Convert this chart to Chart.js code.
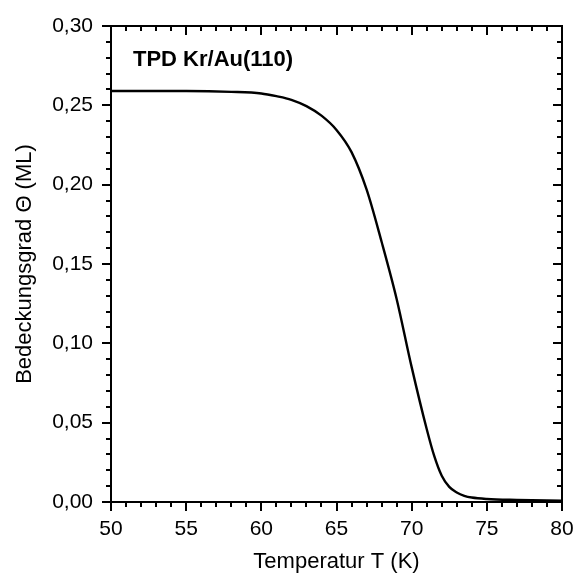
<!DOCTYPE html>
<html>
<head>
<meta charset="utf-8">
<script src="https://cdn.jsdelivr.net/npm/chart.js@4.4.1/dist/chart.umd.min.js"></script>
<style>
  html, body { margin: 0; padding: 0; background: #fff; }
  #wrap { width: 583px; height: 579px; }
</style>
</head>
<body>
<div id="wrap"><canvas id="myChart" width="583" height="579"></canvas></div>
<script>
// temperature (K) and coverage (ML)
const temps = [50, 55, 58, 60, 61, 62, 63, 64, 65, 66, 67, 68, 69, 70, 71, 71.5, 72, 72.5, 73, 73.5, 74, 75, 77, 80];
const coverage = [0.259, 0.259, 0.2585, 0.2575, 0.2558, 0.2535, 0.2495, 0.2435, 0.2345, 0.2205, 0.197, 0.164,
  0.128, 0.085, 0.046, 0.029, 0.0165, 0.0095, 0.006, 0.0039, 0.0028, 0.0019, 0.0013, 0.0008];
const xTicks = [50, 55, 60, 65, 70, 75, 80];
const yTicks = [0, 0.05, 0.10, 0.15, 0.20, 0.25, 0.30];
const chartLabel = 'TPD Kr/Au(110)';
const xTitle = 'Temperatur T (K)';
const yTitle = 'Bedeckungsgrad \u0398 (ML)';

const font = "'Liberation Sans', Arial, sans-serif";

// frame with ticks on all four sides (outside left/bottom, inside top/right)
const framePlugin = {
  id: 'frame',
  afterDraw(chart) {
    const ctx = chart.ctx;
    const area = chart.chartArea;
    const xs = chart.scales.x;
    const ys = chart.scales.y;
    ctx.save();
    ctx.strokeStyle = '#000';
    ctx.lineWidth = 2;
    ctx.lineCap = 'square';
    ctx.strokeRect(area.left, area.top, area.right - area.left, area.bottom - area.top);

    ctx.lineCap = 'butt';
    ctx.beginPath();
    for (let t = 50; t <= 80; t++) {
      const px = Math.round(xs.getPixelForValue(t));
      const len = t % 5 === 0 ? 9 : 5;
      ctx.moveTo(px, area.bottom);
      ctx.lineTo(px, area.bottom + len);
      ctx.moveTo(px, area.top);
      ctx.lineTo(px, area.top + len);
    }
    for (let i = 0; i <= 30; i++) {
      const py = Math.round(ys.getPixelForValue(i / 100));
      const len = i % 5 === 0 ? 9 : 5;
      ctx.moveTo(area.left, py);
      ctx.lineTo(area.left - len, py);
      ctx.moveTo(area.right, py);
      ctx.lineTo(area.right - len, py);
    }
    ctx.stroke();

    ctx.fillStyle = '#000';
    ctx.font = 'bold 22px ' + font;
    ctx.textBaseline = 'alphabetic';
    ctx.fillText(chartLabel, 133, 66);
    ctx.restore();
  }
};

const chartTarget = document.querySelector('#myChart');
const points = temps.map((t, i) => ({ x: t, y: coverage[i] }));

const myChart = new Chart(chartTarget, {
  type: 'line',
  data: {
    datasets: [{
      data: points,
      borderColor: '#000',
      borderWidth: 2.4,
      pointRadius: 0,
      fill: false,
      cubicInterpolationMode: 'monotone'
    }]
  },
  options: {
    responsive: false,
    animation: false,
    layout: { padding: { top: 26, right: 21, left: 0, bottom: 0 } },
    plugins: {
      legend: { display: false },
      tooltip: { enabled: false }
    },
    scales: {
      x: {
        type: 'linear',
        min: 50,
        max: 80,
        afterFit: (scale) => {
          scale.height = 77;
          scale.paddingLeft = 0;
          scale.paddingRight = 0;
        },
        afterBuildTicks: (scale) => { scale.ticks = xTicks.map((v) => ({ value: v })); },
        grid: { display: false, drawTicks: false },
        border: { display: false },
        ticks: {
          color: '#000',
          padding: 15,
          maxRotation: 0,
          font: { family: font, size: 21 },
          callback: (v) => String(v)
        },
        title: {
          display: true,
          text: xTitle,
          color: '#000',
          font: { family: font, size: 22 },
          padding: { top: 0, bottom: 4 }
        }
      },
      y: {
        type: 'linear',
        min: 0,
        max: 0.3,
        afterFit: (scale) => {
          scale.width = 111;
          scale.paddingTop = 0;
          scale.paddingBottom = 0;
        },
        afterBuildTicks: (scale) => { scale.ticks = yTicks.map((v) => ({ value: v })); },
        grid: { display: false, drawTicks: false },
        border: { display: false },
        ticks: {
          color: '#000',
          padding: 18,
          font: { family: font, size: 21 },
          callback: (v) => Number(v).toFixed(2).replace('.', ',')
        },
        title: {
          display: true,
          text: yTitle,
          color: '#000',
          font: { family: font, size: 22 },
          padding: { top: 12, bottom: 0 }
        }
      }
    }
  },
  plugins: [framePlugin]
});
</script>
</body>
</html>
